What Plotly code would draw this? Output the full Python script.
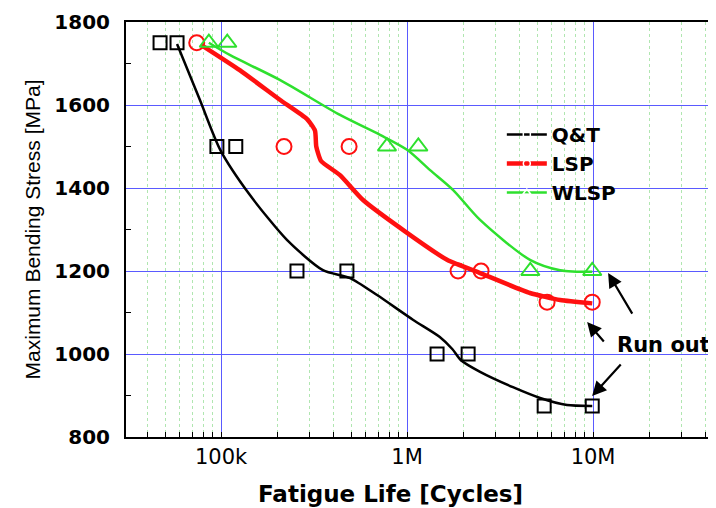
import plotly.graph_objects as go

# measured points
qt_life = [47e3, 58e3, 95e3, 120e3, 256e3, 475e3, 1.45e6, 2.13e6, 5.46e6, 9.9e6]
qt_stress = [1750, 1750, 1500, 1500, 1200, 1200, 1000, 1000, 875, 875]

lsp_life = [74e3, 218e3, 488e3, 1.88e6, 2.5e6, 5.66e6, 9.9e6]
lsp_stress = [1750, 1500, 1500, 1200, 1200, 1125, 1125]

wlsp_life = [86e3, 108e3, 780e3, 1.15e6, 4.6e6, 9.9e6]
wlsp_stress = [1750, 1750, 1500, 1500, 1200, 1200]

# fitted curves
qt_fit_life = [58e3, 77e3, 99e3, 143e3, 226e3, 353e3, 494e3, 690e3,
               1.08e6, 1.50e6, 1.75e6, 1.95e6, 2.47e6, 3.71e6, 5.19e6, 7.24e6, 9.9e6]
qt_fit_stress = [1747, 1612, 1492, 1383, 1275, 1202, 1183, 1142,
                 1082, 1041, 1012, 985, 957, 920, 894, 877, 875]

lsp_fit_life = [78e3, 126e3, 208e3, 290e3, 320e3, 325e3, 345e3, 436e3, 580e3,
                1.0e6, 1.64e6, 2.47e6, 4.58e6, 6.65e6, 9.9e6]
lsp_fit_stress = [1745, 1684, 1612, 1566, 1538, 1500, 1465, 1431, 1371,
                  1292, 1227, 1195, 1147, 1130, 1122]

wlsp_fit_life = [86e3, 112e3, 208e3, 436e3, 716e3, 1.0e6, 1.33e6, 1.77e6, 2.47e6,
                 4.58e6, 6.65e6, 9.9e6]
wlsp_fit_stress = [1750, 1720, 1660, 1576, 1528, 1492, 1443, 1395, 1323,
                   1227, 1202, 1198]

minor_life = [m * 10 ** d for d in range(4, 8) for m in range(2, 10)]

series = [
    ("Q&T", qt_life, qt_stress, qt_fit_life, qt_fit_stress, "black", "square-open", 13, 2.5, 0.7),
    ("LSP", lsp_life, lsp_stress, lsp_fit_life, lsp_fit_stress, "#ff1010", "circle-open", 15, 4.5, 0.5),
    ("WLSP", wlsp_life, wlsp_stress, wlsp_fit_life, wlsp_fit_stress, "#2ee02e", "triangle-up-open", 16, 2.5, 0.8),
]

fig = go.Figure()
for name, x, y, fx, fy, color, symbol, size, lw, smooth in series:
    fig.add_scatter(x=fx, y=fy, mode="lines",
                    line=dict(color=color, width=lw, shape="spline", smoothing=smooth),
                    showlegend=False, hoverinfo="skip")
    fig.add_scatter(x=x, y=y, mode="markers", showlegend=False,
                    marker=dict(symbol=symbol, size=size, color=color, line=dict(width=2, color=color)))
    fig.add_scatter(x=[None], y=[None], mode="lines+markers", name="<b>" + name.replace("&", "&amp;") + "</b>",
                    line=dict(color=color, width=lw),
                    marker=dict(symbol=symbol, size=7, color="white", line=dict(width=1.5, color=color)))

# run out arrows
for hx, hy, ax, ay in [(7.081, 1195, 25, 42), (6.968, 1077, 18, 21), (6.995, 899, 30, -33)]:
    fig.add_annotation(x=hx, y=hy, ax=ax, ay=ay, showarrow=True, arrowhead=2, arrowsize=1.3,
                       arrowwidth=2.2, arrowcolor="black", text="")
fig.add_annotation(x=7.378, y=1022, text="<b>Run out</b>", showarrow=False,
                   font=dict(family="DejaVu Sans", size=21, color="black"))

# x title sits left of the plot centre in the original (figure was cropped on the right)
fig.add_annotation(x=0.449, y=-0.138, xref="paper", yref="paper", yanchor="middle",
                   text="<b>Fatigue Life [Cycles]</b>", showarrow=False,
                   font=dict(family="DejaVu Sans", size=23, color="black"))

fig.update_xaxes(
    type="log", range=[4.489, 7.661], automargin=False,
    tickvals=[1e5, 1e6, 1e7], ticktext=["100k", "1M", "10M"],
    showgrid=True, gridcolor="#5a5aff", gridwidth=1,
    ticks="inside", ticklen=5, tickcolor="black",
    minor=dict(tickvals=minor_life, ticks="inside", ticklen=5, tickcolor="black", showgrid=True,
               gridcolor="#b0e6b0", griddash="dot", gridwidth=1),
    showline=True, linecolor="black", linewidth=2, mirror=True,
    tickfont=dict(family="DejaVu Sans", size=21, color="black"),
    zeroline=False,
)
fig.update_yaxes(
    range=[800, 1800], automargin=False,
    tickvals=[800, 1000, 1200, 1400, 1600, 1800],
    ticktext=["<b>800</b>", "<b>1000</b>", "<b>1200</b>", "<b>1400</b>", "<b>1600</b>", "<b>1800</b>"],
    showgrid=True, gridcolor="#5a5aff", gridwidth=1,
    ticks="", ticklabelstandoff=10,
    minor=dict(tickvals=[900, 1100, 1300, 1500, 1700], ticks="inside", ticklen=5,
               tickcolor="black", showgrid=False),
    showline=True, linecolor="black", linewidth=2,
    tickfont=dict(family="DejaVu Sans", size=20, color="black"),
    title=dict(text="Maximum Bending Stress [MPa]",
               font=dict(family="Liberation Sans, Arial", size=21, color="black"), standoff=8),
    zeroline=False,
)
# page body has an 8px margin, so the figure is sized to end at the window edge
fig.update_layout(
    width=708, height=500,
    margin=dict(l=118, r=0, t=14, b=71),
    paper_bgcolor="white", plot_bgcolor="white",
    font=dict(family="Liberation Sans, Arial, sans-serif", color="black"),
    legend=dict(x=0.637, y=0.776, xanchor="left", yanchor="top",
                bgcolor="rgba(0,0,0,0)", font=dict(family="DejaVu Sans", size=20),
                itemwidth=40, tracegroupgap=0),
    showlegend=True,
)

fig.write_html("out.html")
